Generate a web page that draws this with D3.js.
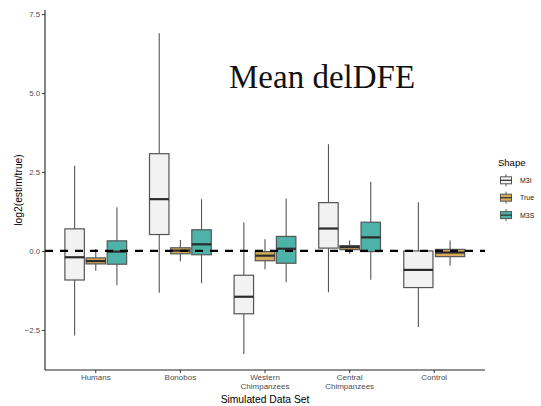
<!DOCTYPE html>
<html>
<head>
<meta charset="utf-8">
<script src="https://cdn.jsdelivr.net/npm/d3@7"></script>
<style>
  html, body { margin: 0; padding: 0; background: #fff; }
  svg { display: block; }
</style>
</head>
<body>
<svg id="chart" width="541" height="406"></svg>
<script>
// Data sets on the x axis and the three shape estimates
const categories = ["Humans", "Bonobos", "Western Chimpanzees", "Central Chimpanzees", "Control"];
const categoryLabels = [["Humans"], ["Bonobos"], ["Western", "Chimpanzees"], ["Central", "Chimpanzees"], ["Control"]];
const shapes = ["M3I", "True", "M3S"];
const shapeColors = ["#f2f2f2", "#d6ab5b", "#4db3a8"];
const yTicks = [-2.5, 0.0, 2.5, 5.0, 7.5];

// Box summaries per shape: [lower whisker, Q1, median, Q3, upper whisker]
const m3iStats = [
  [-2.68, -0.92, -0.20, 0.70, 2.70],
  [-1.32, 0.52, 1.64, 3.08, 6.89],
  [-3.26, -1.99, -1.45, -0.77, 0.90],
  [-1.31, 0.09, 0.71, 1.53, 3.38],
  [-2.41, -1.16, -0.60, 0.00, 1.54]
];
const trueStats = [
  [-0.63, -0.41, -0.32, -0.22, 0.06],
  [-0.33, -0.09, 0.01, 0.10, 0.35],
  [-0.58, -0.31, -0.15, -0.02, 0.37],
  [-0.09, 0.04, 0.12, 0.17, 0.33],
  [-0.47, -0.18, -0.05, 0.05, 0.33]
];
const m3sStats = [
  [-1.09, -0.42, -0.02, 0.32, 1.38],
  [-1.02, -0.12, 0.21, 0.67, 1.64],
  [-0.99, -0.39, 0.07, 0.46, 1.66],
  [-0.91, -0.02, 0.43, 0.91, 2.19],
  null
];

const svg = d3.select("#chart");
const panel = { left: 45, right: 485, top: 10, bottom: 370 };
const sans = "Liberation Sans, Arial, sans-serif";

const x = d3.scaleBand()
  .domain(categories)
  .range([panel.left, panel.right])
  .paddingOuter(0.1)
  .paddingInner(0);
const y = d3.scaleLinear().domain([-3.77, 7.63]).range([panel.bottom, panel.top]);

// Build box records, dodging within each data set over the shapes present
const statsByShape = [m3iStats, trueStats, m3sStats];
const boxes = [];
categories.forEach((cat, ci) => {
  const present = shapes.map((s, si) => ({ s, si, st: statsByShape[si][ci] })).filter(d => d.st);
  const groupWidth = x.bandwidth() * 0.75;
  const slot = groupWidth / present.length;
  const inner = d3.scaleBand()
    .domain(present.map(d => d.s))
    .range([x(cat) + x.bandwidth() / 2 - groupWidth / 2, x(cat) + x.bandwidth() / 2 + groupWidth / 2]);
  present.forEach(d => {
    boxes.push({
      cat, shape: d.s, color: shapeColors[d.si],
      cx: inner(d.s) + inner.bandwidth() / 2,
      w: slot * 0.92,
      lo: d.st[0], q1: d.st[1], med: d.st[2], q3: d.st[3], hi: d.st[4]
    });
  });
});

const outline = "#555";
const g = svg.append("g");
const bg = g.selectAll("g.box").data(boxes).join("g").attr("class", "box");
bg.append("line")
  .attr("x1", d => d.cx).attr("x2", d => d.cx)
  .attr("y1", d => y(d.hi)).attr("y2", d => y(d.q3))
  .attr("stroke", outline).attr("stroke-width", 1.1);
bg.append("line")
  .attr("x1", d => d.cx).attr("x2", d => d.cx)
  .attr("y1", d => y(d.q1)).attr("y2", d => y(d.lo))
  .attr("stroke", outline).attr("stroke-width", 1.1);
bg.append("rect")
  .attr("x", d => d.cx - d.w / 2).attr("width", d => d.w)
  .attr("y", d => y(d.q3)).attr("height", d => y(d.q1) - y(d.q3))
  .attr("fill", d => d.color).attr("stroke", outline).attr("stroke-width", 1.2);
bg.append("line")
  .attr("x1", d => d.cx - d.w / 2).attr("x2", d => d.cx + d.w / 2)
  .attr("y1", d => y(d.med)).attr("y2", d => y(d.med))
  .attr("stroke", "#2b2b2b").attr("stroke-width", 2.2);

// Reference line at zero
svg.append("line")
  .attr("x1", panel.left).attr("x2", panel.right)
  .attr("y1", y(0)).attr("y2", y(0))
  .attr("stroke", "#000").attr("stroke-width", 2.3)
  .attr("stroke-dasharray", "8,7");

// Axes
const yAxis = d3.axisLeft(y).tickValues(yTicks).tickFormat(d3.format(".1f")).tickSize(3).tickPadding(2);
const yg = svg.append("g").attr("transform", `translate(${panel.left},0)`).call(yAxis);
yg.select(".domain").attr("d", `M0,${panel.top}V${panel.bottom}`).attr("stroke", "#222").attr("stroke-width", 1.1);
yg.selectAll(".tick line").attr("stroke", "#333");
yg.selectAll(".tick text").attr("fill", "#4d4d4d").style("font-family", sans).style("font-size", "7.8px");

const xAxis = d3.axisBottom(x).tickSize(3).tickFormat("");
const xg = svg.append("g").attr("transform", `translate(0,${panel.bottom})`).call(xAxis);
xg.select(".domain").attr("d", `M${panel.left},0H${panel.right}`).attr("stroke", "#222").attr("stroke-width", 1.1);
xg.selectAll(".tick line").attr("stroke", "#333");
xg.selectAll(".tick").each(function(d, i) {
  const t = d3.select(this).append("text")
    .attr("fill", "#4d4d4d").attr("text-anchor", "middle")
    .style("font-family", sans).style("font-size", "8px");
  categoryLabels[i].forEach((line, li) => {
    t.append("tspan").attr("x", 0).attr("y", 9.5 + li * 9).text(line);
  });
});

// Axis titles
svg.append("text")
  .attr("x", (panel.left + panel.right) / 2).attr("y", 403)
  .attr("text-anchor", "middle")
  .style("font-family", sans).style("font-size", "10.3px")
  .text("Simulated Data Set");
svg.append("text")
  .attr("transform", `translate(22,${(panel.top + panel.bottom) / 2}) rotate(-90)`)
  .attr("text-anchor", "middle")
  .style("font-family", sans).style("font-size", "10.3px")
  .text("log2(estim/true)");

// Title annotation
svg.append("text")
  .attr("x", 229).attr("y", 88)
  .style("font-family", "Liberation Serif, Times New Roman, serif").style("font-size", "33px")
  .attr("fill", "#111")
  .text("Mean delDFE");

// Legend
const legend = svg.append("g").attr("transform", "translate(498,0)");
legend.append("text")
  .attr("x", 0).attr("y", 166)
  .style("font-family", sans).style("font-size", "9.5px")
  .text("Shape");
const keys = legend.selectAll("g.key").data(shapes).join("g").attr("class", "key")
  .attr("transform", (d, i) => `translate(0,${180.3 + i * 17.4})`);
keys.append("line").attr("x1", 8).attr("x2", 8).attr("y1", -6).attr("y2", 6).attr("stroke", outline).attr("stroke-width", 1);
keys.append("rect").attr("x", 2.5).attr("y", -3.5).attr("width", 11).attr("height", 7)
  .attr("fill", (d, i) => shapeColors[i]).attr("stroke", outline).attr("stroke-width", 1);
keys.append("line").attr("x1", 2.5).attr("x2", 13.5).attr("y1", 0).attr("y2", 0).attr("stroke", "#2b2b2b").attr("stroke-width", 1.2);
keys.append("text").attr("x", 22).attr("y", 2.5)
  .style("font-family", sans).style("font-size", "7px")
  .attr("fill", "#222")
  .text(d => d);
</script>
</body>
</html>
